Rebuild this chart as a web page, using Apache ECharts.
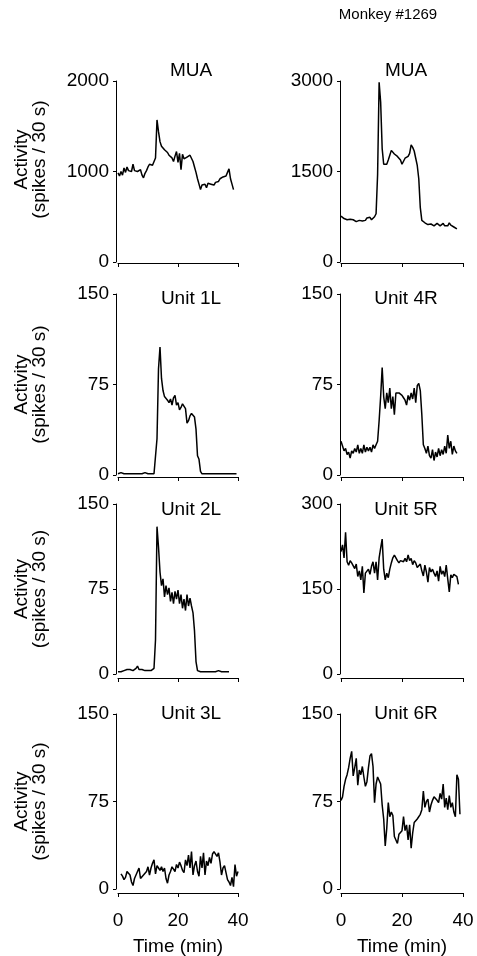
<!DOCTYPE html>
<html>
<head>
<meta charset="utf-8">
<title>Monkey #1269</title>
<script src="https://cdn.jsdelivr.net/npm/echarts@6/dist/echarts.min.js"></script>
<style>
  html, body { margin: 0; padding: 0; background: #fff; }
  #chart { width: 477px; height: 956px; }
</style>
</head>
<body>
<div id="chart"></div>
<script>
// bin start times (min), one bin every 30 s
const binMin = [
  0, 0.5, 1, 1.5, 2, 2.5, 3, 3.5, 4, 4.5, 5, 5.5, 6, 6.5, 7, 7.5, 8, 8.5, 9, 9.5,
  10, 10.5, 11, 11.5, 12, 12.5, 13, 13.5, 14, 14.5, 15, 15.5, 16, 16.5, 17, 17.5, 18, 18.5, 19, 19.5,
  20, 20.5, 21, 21.5, 22, 22.5, 23, 23.5, 24, 24.5, 25, 25.5, 26, 26.5, 27, 27.5, 28, 28.5, 29, 29.5,
  30, 30.5, 31, 31.5, 32, 32.5, 33, 33.5, 34, 34.5, 35, 35.5, 36, 36.5, 37, 37.5, 38, 38.5, 39, 39.5, 40
];

const timeTicks = [0, 20, 40];

// spikes / 30 s
const muaLeft = [
  985, 950, 1000, 960, 1040, 990, 1050, 1010, 1030, 1000,
  1080, 1010, 1030, 1000, 990, 1020, 960, 930, 980, 1010,
  1050, 1080, 1070, 1070, 1080, 1150, 1570, 1440, 1330, 1280,
  1290, 1240, 1250, 1210, 1180, 1200, 1150, 1110, 1170, 1220,
  1100, 1200, 1020, 1190, 1140, 1150, 1160, 1170, 1180, 1170,
  1110, 1050, 990, 920, 860, 800, 850, 830, 860, 820,
  870, 850, 860, 880, 850, 880, 870, 890, 920, 900,
  940, 960, 950, 990, 1030, 920, 860, 800
];
const muaRight = [
  760, 740, 720, 730, 700, 690, 710, 680, 700, 690,
  670, 700, 690, 720, 680, 700, 690, 730, 710, 740,
  700, 720, 750, 800, 1450, 2980, 2650, 1880, 1620, 1590,
  1620, 1690, 1770, 1850, 1880, 1790, 1770, 1750, 1730, 1690,
  1620, 1650, 1720, 1740, 1750, 1800, 1940, 1900, 1840, 1720,
  1600, 1380, 900, 690, 660, 650, 640, 620, 600, 630,
  620, 600, 610, 640, 620, 600, 610, 640, 600, 620,
  600, 650, 610, 620, 580, 570, 550
];
const unit1L = [
  1, 1, 2, 1, 1, 2, 1, 1, 1, 2, 1, 1, 1, 1, 1, 1, 1, 1, 2, 1, 1, 1, 1, 1, 1,
  2, 30, 88, 106, 80, 70, 65, 64, 62, 60, 63, 58, 64, 66, 58, 60, 54, 56, 59, 60,
  55, 43, 45, 49, 51, 52, 48, 38, 16, 13, 3,
  1, 1, 1, 1, 1, 1, 1, 1, 1, 1, 1, 1, 1, 1, 1, 1, 1, 1, 1, 1, 1, 1, 1, 1
];
const unit4R = [
  28, 24, 20, 22, 17, 19, 14, 20, 18, 22,
  19, 25, 18, 22, 18, 25, 19, 23, 20, 23,
  19, 25, 22, 25, 28, 45, 65, 89, 65, 55,
  68, 60, 72, 55, 65, 50, 68, 67, 68, 67,
  66, 64, 62, 58, 66, 62, 68, 63, 72, 60,
  74, 76, 70, 50, 25, 22, 18, 24, 16, 14,
  21, 12, 19, 15, 22, 16, 21, 17, 24, 18,
  33, 22, 28, 17, 24, 20, 18
];
const unit2L = [
  2, 2, 2, 2, 3, 3, 4, 3, 4, 4, 3, 4, 5, 7, 4, 3, 4, 3, 3, 3, 3, 3, 3, 4, 5,
  30, 130, 112, 90, 78, 84, 68, 78, 70, 76, 64, 72, 62, 73, 66, 74, 62, 70, 58, 66,
  56, 70, 60, 67, 60, 54, 38, 11, 3,
  2, 2, 2, 2, 2, 2, 2, 2, 2, 2, 2, 2, 2, 3, 2, 2, 2, 2, 2, 2, 2
];
const unit5R = [
  216, 228, 205, 250, 198, 192, 200, 196, 193, 186,
  194, 172, 182, 166, 190, 143, 178, 175, 185, 176,
  190, 198, 178, 198, 166, 205, 222, 238, 185, 166,
  178, 170, 185, 196, 205, 210, 205, 200, 196, 200,
  202, 198, 204, 198, 210, 200, 204, 193, 200, 196,
  188, 185, 194, 182, 173, 192, 180, 162, 188, 180,
  185, 178, 172, 182, 164, 190, 176, 182, 172, 192,
  168, 145, 175, 170, 176, 174, 172, 158
];
const unit3L = [
  null, null, 13, 11, 8, 10, 15, 16, 12, 6,
  3, 9, 12, 15, 18, 9, 8, 12, 11, 15,
  19, 12, 18, 22, 25, 13, 20, 18, 16, 19,
  15, 18, 9, 5, 12, 15, 19, 18, 15, 21,
  18, 23, 20, 16, 14, 25, 20, 29, 18, 32,
  12, 20, 24, 15, 11, 28, 18, 31, 12, 24,
  20, 27, 22, 30, 32, 33, 28, 31, 23, 12,
  18, 20, 14, 8, 6, 3, 10, 2, 21, 11,
  15
];
const unit6R = [
  76, 79, 88, 94, 98, 104, 112, 118, 97, 104,
  112, 89, 102, 98, 105, 96, 88, 92, 104, 114,
  116, 105, 74, 90, 96, 95, 90, 72, 60, 37,
  52, 74, 62, 66, 63, 45, 44, 39, 47, 46,
  50, 62, 50, 55, 42, 55, 35, 48, 57, 58,
  60, 61, 64, 68, 84, 70, 75, 77, 66, 72,
  76, 79, 80, 76, 74, 82, 77, 90, 70, 78,
  68, 80, 70, 74, 66, 62, 98, 94, 64
];

const FONT = '"Liberation Sans", Arial, Helvetica, sans-serif';
const INK = '#000';

// layout of the 4 x 2 panels
const rows = [
  { top: 81, height: 181, xOffset: 1, titleY: 71 },
  { top: 294, height: 181, xOffset: 2, titleY: 299 },
  { top: 504, height: 170, xOffset: 4, titleY: 510 },
  { top: 714, height: 175, xOffset: 4, titleY: 714 }
];
const cols = [
  { left: 118, width: 120, yOffset: 2, titleX: 191 },
  { left: 341, width: 122, yOffset: 1, titleX: 406 }
];

const panels = [
  { title: 'MUA', values: muaLeft, max: 2000, row: 0, col: 0 },
  { title: 'MUA', values: muaRight, max: 3000, row: 0, col: 1 },
  { title: 'Unit 1L', values: unit1L, max: 150, row: 1, col: 0 },
  { title: 'Unit 4R', values: unit4R, max: 150, row: 1, col: 1 },
  { title: 'Unit 2L', values: unit2L, max: 150, row: 2, col: 0 },
  { title: 'Unit 5R', values: unit5R, max: 300, row: 2, col: 1 },
  { title: 'Unit 3L', values: unit3L, max: 150, row: 3, col: 0 },
  { title: 'Unit 6R', values: unit6R, max: 150, row: 3, col: 1 }
];

const chart = echarts.init(document.getElementById('chart'), null, { renderer: 'canvas' });

const grid = [], xAxis = [], yAxis = [], series = [];
const graphic = [{
  type: 'text', x: 388, y: 15,
  style: { text: 'Monkey #1269', font: '15px ' + FONT, fill: INK, align: 'center', verticalAlign: 'middle' }
}];

panels.forEach((p, i) => {
  const r = rows[p.row], c = cols[p.col];
  const bottomRow = p.row === rows.length - 1;
  const leftCol = p.col === 0;

  grid.push({
    left: c.left, top: r.top, width: c.width, height: r.height,
    containLabel: false, outerBoundsMode: 'none'
  });

  xAxis.push({
    gridIndex: i, type: 'value', min: timeTicks[0], max: timeTicks[2], interval: 20,
    offset: r.xOffset,
    axisLine: { show: true, onZero: false, lineStyle: { color: INK, width: 1 } },
    axisTick: { show: true, length: 4, lineStyle: { color: INK, width: 1 } },
    axisLabel: { show: bottomRow, margin: 18, fontSize: 19, fontFamily: FONT, color: INK },
    splitLine: { show: false },
    name: bottomRow ? 'Time (min)' : '',
    nameLocation: 'middle', nameGap: 44, nameMoveOverlap: false,
    nameTextStyle: { fontSize: 19, fontFamily: FONT, color: INK }
  });

  yAxis.push({
    gridIndex: i, type: 'value', min: 0, max: p.max, interval: p.max / 2,
    offset: c.yOffset,
    axisLine: { show: true, onZero: false, lineStyle: { color: INK, width: 1 } },
    axisTick: { show: true, length: 3, lineStyle: { color: INK, width: 1 } },
    axisLabel: { margin: 7, fontSize: 19, fontFamily: FONT, color: INK, formatter: v => String(v) },
    splitLine: { show: false },
    name: leftCol ? 'Activity\n(spikes / 30 s)' : '',
    nameLocation: 'middle', nameRotate: 90, nameGap: 67, nameMoveOverlap: false,
    nameTextStyle: {
      fontSize: 19, fontFamily: FONT, color: INK, lineHeight: 18,
      padding: p.row === 0 ? [0, 0, 0, 24] : 0
    }
  });

  const pts = [];
  p.values.forEach((v, k) => { if (v !== null) pts.push([binMin[k], v]); });

  series.push({
    type: 'line', xAxisIndex: i, yAxisIndex: i, data: pts,
    symbol: 'none', showSymbol: false, clip: false,
    lineStyle: { color: INK, width: 1.5 },
    silent: true
  });

  graphic.push({
    type: 'text', x: c.titleX, y: r.titleY,
    style: { text: p.title, font: '19px ' + FONT, fill: INK, align: 'center', verticalAlign: 'middle' }
  });
});

chart.setOption({
  animation: false,
  backgroundColor: '#fff',
  grid: grid,
  xAxis: xAxis,
  yAxis: yAxis,
  series: series,
  graphic: graphic
});
</script>
</body>
</html>
